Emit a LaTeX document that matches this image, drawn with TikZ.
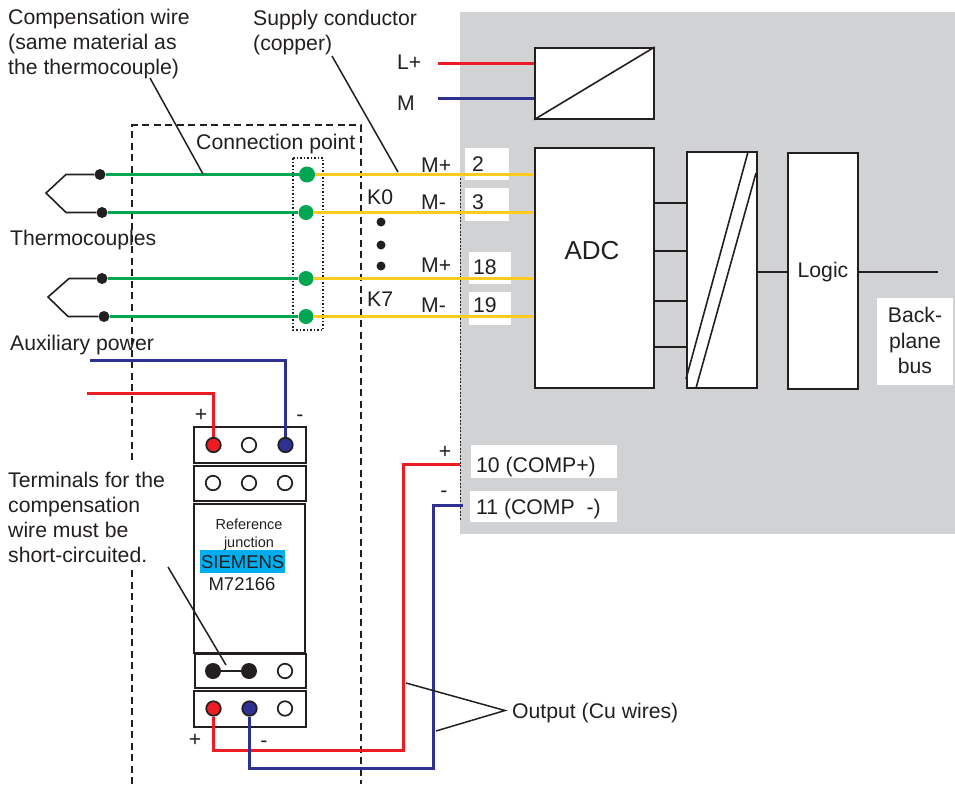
\documentclass[tikz,border=0pt]{standalone}
\usepackage{fontspec}
\setmainfont{Liberation Sans}
\definecolor{ink}{HTML}{231F20}
\definecolor{panel}{HTML}{D0D2D4}
\definecolor{wred}{HTML}{ED1C24}
\definecolor{wblue}{HTML}{2E3192}
\definecolor{wgreen}{HTML}{00A651}
\definecolor{wyellow}{HTML}{FFCB1F}
\definecolor{brand}{HTML}{00AEEF}
\tikzset{
  lab/.style={text=ink,inner sep=0pt,anchor=base west,font=\fontsize{21.2}{25.2}\selectfont},
  mlab/.style={text=ink,inner sep=0pt,anchor=north west,align=left,font=\fontsize{21.2}{25.2}\selectfont},
  clab/.style={text=ink,inner sep=0pt,anchor=base,font=\fontsize{21.2}{25.2}\selectfont},
  block/.style={draw=ink,fill=white,line width=1.7pt,inner sep=0pt,anchor=north west},
  rail/.style={draw=ink,fill=white,line width=2.2pt,inner sep=0pt,anchor=north west},
  hole/.style={circle,draw=ink,fill=white,line width=1.7pt,minimum size=14.5pt,inner sep=0pt},
  blackdot/.style={circle,fill=ink,minimum size=11pt,inner sep=0pt},
  greendot/.style={circle,fill=wgreen,minimum size=15pt,inner sep=0pt},
  bigdot/.style={circle,fill=ink,minimum size=16pt,inner sep=0pt},
  redpin/.style={hole,fill=wred},
  bluepin/.style={hole,fill=wblue},
  small/.style={circle,fill=ink,minimum size=9pt,inner sep=0pt},
  redw/.style={draw=wred,line width=3pt},
  bluew/.style={draw=wblue,line width=3pt},
  greenw/.style={draw=wgreen,line width=3pt},
  yelw/.style={draw=wyellow,line width=3pt},
  thin/.style={draw=ink,line width=1.6pt},
  lead/.style={draw=ink,line width=1.5pt},
  frame/.style={draw=ink,line width=1.6pt,dash pattern=on 7pt off 4.5pt},
}
\begin{document}
\begin{tikzpicture}[x=1pt,y=-1pt]
\useasboundingbox (0,0) rectangle (955,784);
% panel
\fill[panel] (460,12) rectangle (955,534);
\draw[ink,line width=0.8pt,dash pattern=on 2pt off 1.5pt] (460,178) -- (460,520);
\foreach \a/\b/\c/\d in {465/148/509/180,465/188/509/221,469/252/511/284,469/292/511/325,471/445/617/478,470/491/617/522,877/298/953/385}
  \fill[white] (\a,\b) rectangle (\c,\d);
% dashed enclosure
\draw[frame] (132,460) -- (132,125) -- (361,125) -- (361,784);
\draw[frame] (132,570) -- (132,784);
\draw[ink,line width=1.5pt,dash pattern=on 1.5pt off 2pt] (293,158) rectangle (323,330);
% blocks
\node[block,minimum width=119pt,minimum height=71pt] (psu) at (534,47) {};
\draw[thin] (psu.south west) -- (psu.north east);
\node[block,minimum width=119pt,minimum height=240pt] (adc) at (534,147) {};
\node[block,minimum width=70pt,minimum height=236pt] (iso) at (686,151) {};
\node[block,minimum width=70pt,minimum height=236pt] (logic) at (787,152) {};
\coordinate (s1a) at (748,152); \coordinate (s1b) at (686,379);
\coordinate (s2a) at (756,173); \coordinate (s2b) at (696,388);
\draw[thin] (s1a) -- (s1b);
\draw[thin] (s2a) -- (s2b);
\coordinate (b1) at (655,203); \draw[thin] (b1) -- (b1 -| iso.west);
\coordinate (b2) at (653,251); \draw[thin] (b2) -- (b2 -| iso.west);
\coordinate (b3) at (653,301); \draw[thin] (b3) -- (b3 -| iso.west);
\coordinate (b4) at (653,347); \draw[thin] (b4) -- (b4 -| iso.west);
\coordinate (c1) at (756,272); \draw[thin] (c1) -- (c1 -| logic.west);
\coordinate (c2) at (857,272); \coordinate (busend) at (938,272); \draw[thin] (c2) -- (busend);
% supply
\coordinate (lp) at (438,63.5); \coordinate (lm) at (438,98.5);
\draw[redw] (lp) -- (lp -| psu.west);
\draw[bluew] (lm) -- (lm -| psu.west);
% thermocouple terminals
\node[blackdot] (t1) at (100,174.5) {};
\node[blackdot] (t2) at (102,212.5) {};
\node[blackdot] (t3) at (102,278.5) {};
\node[blackdot] (t4) at (104,316.5) {};
\node[greendot,minimum size=16pt] (g1) at (307,174.5) {};
\node[greendot] (g2) at (306,212.5) {};
\node[greendot] (g3) at (306,278.5) {};
\node[greendot] (g4) at (306,316.5) {};
\draw[greenw] (t1) -- (g1);
\draw[greenw] (t2) -- (g2);
\draw[greenw] (t3) -- (g3);
\draw[greenw] (t4) -- (g4);
\draw[yelw] (g1) -- (g1 -| adc.west);
\draw[yelw] (g2) -- (g2 -| adc.west);
\draw[yelw] (g3) -- (g3 -| adc.west);
\draw[yelw] (g4) -- (g4 -| adc.west);
\coordinate (j1) at (46,193); \coordinate (j2) at (48,297);
\draw[thin] (t1) -- (66,174.5) -- (j1) -- (66,212.5) -- (t2);
\draw[thin] (t3) -- (69,278.5) -- (j2) -- (68,316.5) -- (t4);
\node[small] (d1) at (381,222) {};
\node[small] (d2) at (381,245) {};
\node[small] (d3) at (381,266) {};
% module
\node[rail,minimum width=112pt,minimum height=36pt] (r1) at (193,426) {};
\node[rail,minimum width=112pt,minimum height=35pt] (r2) at (193,465) {};
\node[rail,minimum width=111.5pt,minimum height=149pt] (r3) at (192.5,503) {};
\node[rail,minimum width=111pt,minimum height=34pt] (r4) at (193.5,653) {};
\node[rail,minimum width=112pt,minimum height=36pt] (r5) at (193,690) {};
\node[redpin] (a1) at (213.5,445) {};
\node[hole] (a2) at (249,445) {};
\node[bluepin] (a3) at (285.5,445) {};
\node[hole] (e1) at (213,483) {};
\node[hole] (e2) at (249,483) {};
\node[hole] (e3) at (285,483) {};
\node[bigdot] (f1) at (213,671) {};
\node[bigdot] (f2) at (249,671) {};
\node[hole] (f3) at (285,671) {};
\node[redpin] (p1) at (213.5,708.5) {};
\node[bluepin] (p2) at (249.5,708.5) {};
\node[hole] (p3) at (285,708.5) {};
\draw[ink,line width=2.4pt] (f1) -- (f2);
% aux wires
\coordinate (auxb) at (90,360.5); \coordinate (auxr) at (87,393.5);
\draw[bluew] (auxb) -| (a3);
\draw[redw] (auxr) -| (a1);
% output wires
\coordinate (in10) at (460,464.5); \coordinate (in11) at (463,505.5);
\coordinate (v10) at (403.5,750.5); \coordinate (v11) at (433.5,768.5);
\draw[redw] (p1) |- (v10) -- (in10 -| v10) -- (in10);
\draw[bluew] (p2) |- (v11) -- (in11 -| v11) -- (in11);
% SIEMENS
\node[fill=brand,minimum width=85pt,minimum height=23pt,inner sep=0pt,anchor=north west] (brandbox) at (200,550) {};
\node[text=ink,inner sep=0pt,font=\fontsize{18.5}{20}\selectfont] (brandtext) at (brandbox.center) {SIEMENS};
\node[text=ink,inner sep=0pt,anchor=base,font=\fontsize{14.5}{16}\selectfont] (ref1) at (249,529) {Reference};
\node[text=ink,inner sep=0pt,anchor=base,font=\fontsize{14.5}{16}\selectfont] (ref2) at (249,547) {junction};
\node[text=ink,inner sep=0pt,anchor=base,font=\fontsize{18.5}{20}\selectfont] (type) at (242,590) {M72166};
% labels
\node[mlab] (tcomp) at (8,9) {Compensation wire\\(same material as\\the thermocouple)};
\node[mlab] (tsup) at (253,9.5) {Supply conductor\\(copper)};
\node[lab] (tconn) at (196,149) {Connection point};
\node[lab] (ttc) at (10,245) {Thermocouples};
\node[lab] (taux) at (10,350) {Auxiliary power};
\node[mlab] (tterm) at (8,471.5) {Terminals for the\\compensation\\wire must be\\short-circuited.};
\node[lab] (tout) at (512,718) {Output (Cu wires)};
\node[lab] at (397,70) {L+};
\node[lab] at (397,110) {M};
\node[lab] at (421,172) {M+};
\node[lab] at (421,209) {M-};
\node[lab] at (421,272) {M+};
\node[lab] at (421,312) {M-};
\node[lab] at (367,204) {K0};
\node[lab] at (367,306) {K7};
\node[lab] at (472,171) {2};
\node[lab] at (472,209) {3};
\node[lab] at (473,274) {18};
\node[lab] at (473,312) {19};
\node[lab] at (476,472) {10 (COMP+)};
\node[lab] at (476,514) {11 (COMP\ \ -)};
\node[clab] at (445,458) {+};
\node[clab] at (444,497) {-};
\node[clab] at (201,421) {+};
\node[clab] at (300,421) {-};
\node[clab] at (195,746) {+};
\node[clab] at (264,747) {-};
\node[clab,font=\fontsize{26}{28}\selectfont] at (592,259) {ADC};
\node[clab] at (823,277) {Logic};
\node[clab] at (915,322) {Back-};
\node[clab] at (915,348) {plane};
\node[clab] at (915,373) {bus};
% leaders
\coordinate (l1) at (150,78); \coordinate (l1b) at (203,174);
\coordinate (l2) at (332,56); \coordinate (l2b) at (398,172);
\coordinate (l3) at (168,567); \coordinate (l3b) at (226,665);
\coordinate (l4) at (406,683); \coordinate (l5) at (436,731); \coordinate (l6) at (505,710.5);
\draw[lead] (l1) -- (l1b);
\draw[lead] (l2) -- (l2b);
\draw[lead] (l3) -- (l3b);
\draw[lead] (l4) -- (l6) -- (l5);
\end{tikzpicture}
\end{document}
